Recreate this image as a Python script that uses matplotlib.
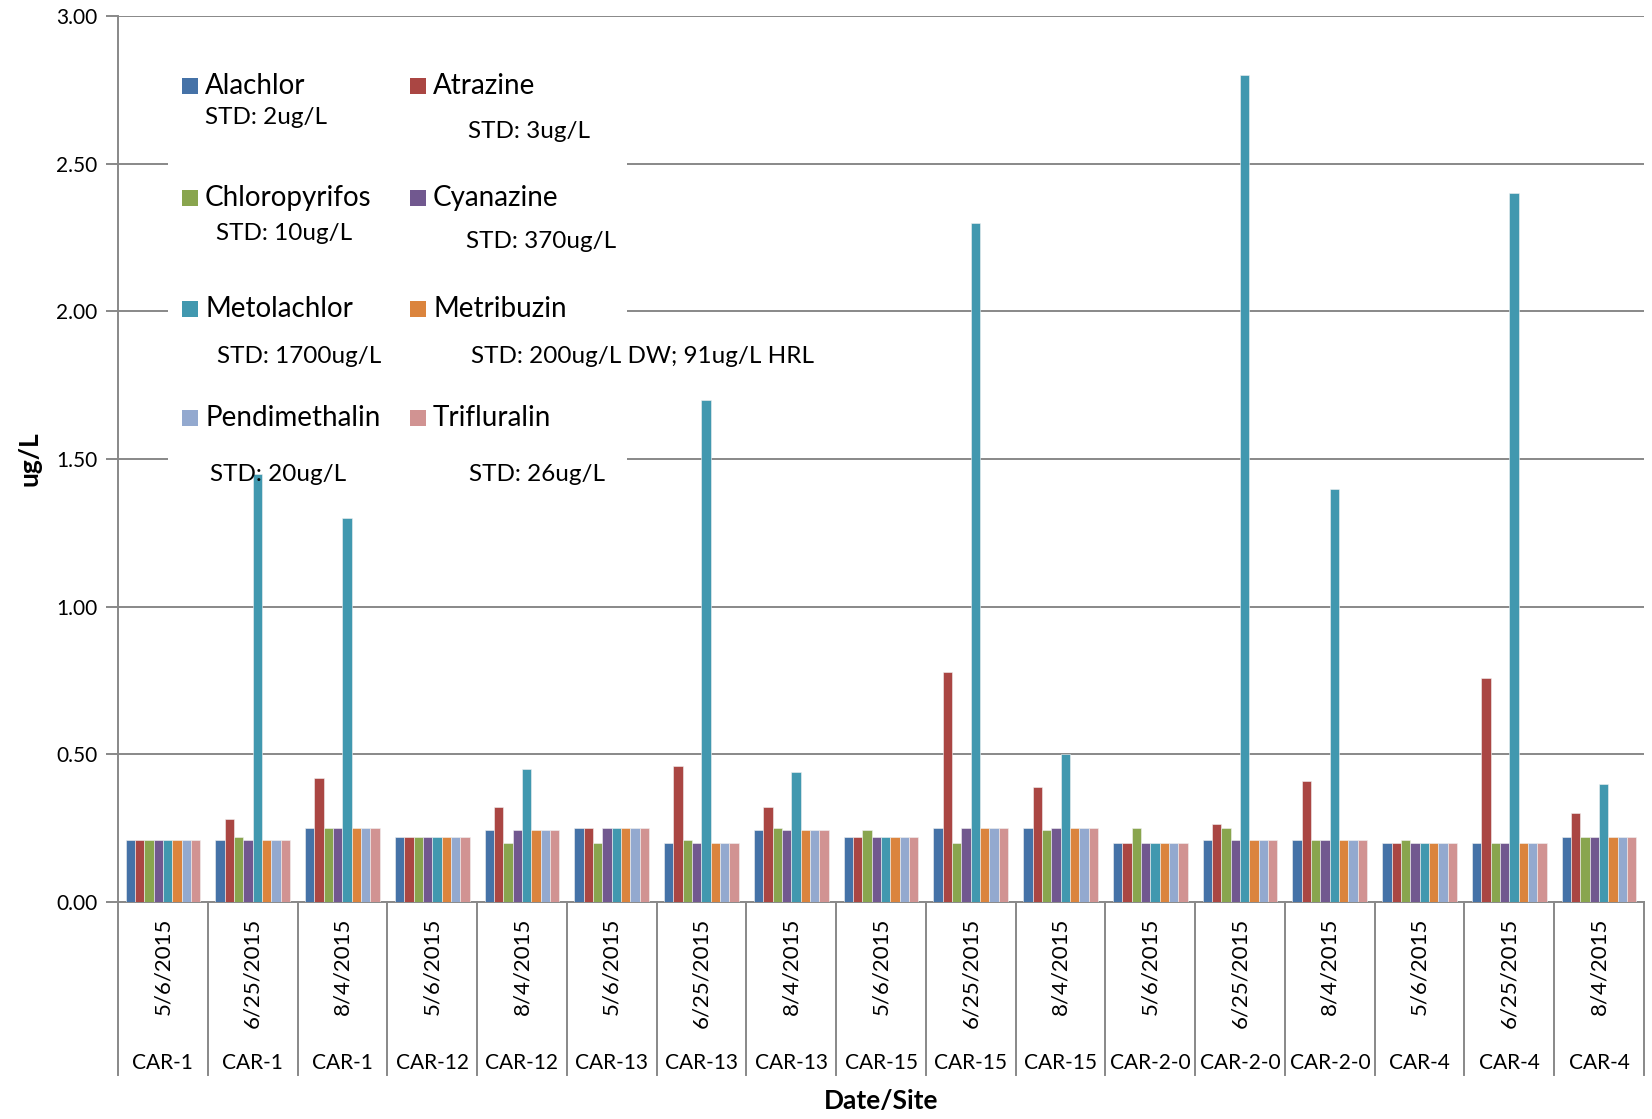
import matplotlib
matplotlib.use("Agg")
import matplotlib.pyplot as plt
import numpy as np
from matplotlib.patches import Rectangle
from matplotlib.transforms import blended_transform_factory

plt.rcParams['font.family'] = ['Lato', 'DejaVu Sans']

dates = ["5/6/2015", "6/25/2015", "8/4/2015", "5/6/2015", "8/4/2015", "5/6/2015",
         "6/25/2015", "8/4/2015", "5/6/2015", "6/25/2015", "8/4/2015", "5/6/2015",
         "6/25/2015", "8/4/2015", "5/6/2015", "6/25/2015", "8/4/2015"]
sites = ["CAR-1", "CAR-1", "CAR-1", "CAR-12", "CAR-12", "CAR-13", "CAR-13", "CAR-13",
         "CAR-15", "CAR-15", "CAR-15", "CAR-2-0", "CAR-2-0", "CAR-2-0", "CAR-4", "CAR-4", "CAR-4"]

series_names = ["Alachlor", "Atrazine", "Chloropyrifos", "Cyanazine",
                "Metolachlor", "Metribuzin", "Pendimethalin", "Trifluralin"]
std_labels = ["STD: 2ug/L", "STD: 3ug/L", "STD: 10ug/L", "STD: 370ug/L",
              "STD: 1700ug/L", "STD: 200ug/L DW; 91ug/L HRL", "STD: 20ug/L", "STD: 26ug/L"]
colors = ["#4572A7", "#AA4643", "#89A54E", "#71588F", "#4198AF", "#DB843D", "#93A9CF", "#D19392"]

alachlor      = [0.21, 0.21, 0.25, 0.22, 0.243, 0.25, 0.20, 0.243, 0.22, 0.25, 0.25, 0.20, 0.21, 0.21, 0.20, 0.20, 0.22]
atrazine      = [0.21, 0.28, 0.42, 0.22, 0.32, 0.25, 0.46, 0.32, 0.22, 0.78, 0.39, 0.20, 0.263, 0.41, 0.20, 0.76, 0.30]
chloropyrifos = [0.21, 0.22, 0.25, 0.22, 0.20, 0.20, 0.21, 0.25, 0.243, 0.20, 0.243, 0.25, 0.25, 0.21, 0.21, 0.20, 0.22]
cyanazine     = [0.21, 0.21, 0.25, 0.22, 0.243, 0.25, 0.20, 0.243, 0.22, 0.25, 0.25, 0.20, 0.21, 0.21, 0.20, 0.20, 0.22]
metolachlor   = [0.21, 1.45, 1.30, 0.22, 0.452, 0.25, 1.70, 0.44, 0.22, 2.30, 0.50, 0.20, 2.80, 1.40, 0.20, 2.40, 0.40]
metribuzin    = [0.21, 0.21, 0.25, 0.22, 0.243, 0.25, 0.20, 0.243, 0.22, 0.25, 0.25, 0.20, 0.21, 0.21, 0.20, 0.20, 0.22]
pendimethalin = [0.21, 0.21, 0.25, 0.22, 0.243, 0.25, 0.20, 0.243, 0.22, 0.25, 0.25, 0.20, 0.21, 0.21, 0.20, 0.20, 0.22]
trifluralin   = [0.21, 0.21, 0.25, 0.22, 0.243, 0.25, 0.20, 0.243, 0.22, 0.25, 0.25, 0.20, 0.21, 0.21, 0.20, 0.20, 0.22]
series = [alachlor, atrazine, chloropyrifos, cyanazine, metolachlor, metribuzin, pendimethalin, trifluralin]

W, H = 1652, 1119
fig = plt.figure(figsize=(W / 100, H / 100), dpi=100)
ax = fig.add_axes([118 / W, 1 - 902 / H, (1644 - 118) / W, (902 - 16) / H])

def fx(px):
    return px / W

def fy(py):
    return 1 - py / H

grid_c = "#888888"
n = len(dates)
x = np.arange(n)
bw = 0.104
for i, (vals, c) in enumerate(zip(series, colors)):
    ax.bar(x + (i - 3.5) * bw, vals, width=bw, color=c, edgecolor="#f2f2f2",
           linewidth=0.4, zorder=3)

ax.set_xlim(-0.5, n - 0.5)
ax.set_ylim(0, 3.0)
ax.set_yticks(np.arange(0, 3.01, 0.5))
ax.set_yticklabels([f"{v:.2f}" for v in np.arange(0, 3.01, 0.5)], fontsize=15)
ax.yaxis.grid(True, color=grid_c, linewidth=1.4, zorder=0)
ax.set_axisbelow(True)
ax.tick_params(axis='y', length=9, width=1.4, color=grid_c, pad=6)
ax.set_xticks([])
for s in ["top", "right"]:
    ax.spines[s].set_visible(False)
for s in ["left", "bottom"]:
    ax.spines[s].set_color(grid_c)
    ax.spines[s].set_linewidth(1.4)

# category separators / two-level labels
tr = blended_transform_factory(ax.transData, fig.transFigure)
for b in np.arange(n + 1) - 0.5:
    ax.plot([b, b], [fy(902), fy(1075)], transform=tr, color=grid_c,
            linewidth=1.4, clip_on=False)
for xi, d, s in zip(x, dates, sites):
    fig.text(xi, fy(918), d, transform=tr, rotation=90, ha='center', va='top',
             fontsize=16)
    fig.text(xi, fy(1063), s, transform=tr, ha='center', va='center', fontsize=15)

fig.text(fx(881), fy(1101), "Date/Site", ha='center', va='center',
         fontsize=19, fontweight='bold')
fig.text(fx(30), fy(459), "ug/L", ha='center', va='center', rotation=90,
         fontsize=19, fontweight='bold')

# legend box (white, covers gridlines)
ax.add_patch(Rectangle((fx(168), fy(466)), fx(627) - fx(168), fy(45) - fy(466),
                       transform=fig.transFigure, facecolor='white',
                       edgecolor='none', zorder=1.5))
name_pos = [(182, 86), (410, 86), (182, 198), (410, 198),
            (182, 309), (410, 309), (182, 418), (410, 418)]
std_pos = [(205, 118), (468, 131), (216, 234), (466, 242),
           (217, 356), (471, 356), (210, 474), (469, 474)]
sq = 16
for (px, py), (sx, sy), name, std, c in zip(name_pos, std_pos, series_names, std_labels, colors):
    fig.patches.append(Rectangle((fx(px), fy(py + sq / 2)), sq / W, sq / H,
                                 transform=fig.transFigure, facecolor=c,
                                 edgecolor='none', figure=fig))
    fig.text(fx(px + sq + 7), fy(py), name, ha='left', va='center', fontsize=20)
    fig.text(fx(sx), fy(sy), std, ha='left', va='center', fontsize=17.5)

fig.savefig("out.png", dpi=100)
